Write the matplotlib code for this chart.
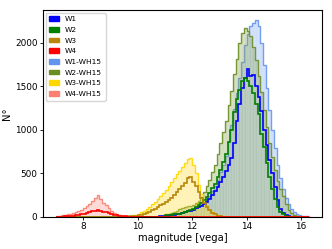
import numpy as np
import matplotlib
matplotlib.use('Agg')
import matplotlib.pyplot as plt
from matplotlib.patches import Patch

# histogram binning (magnitudes)
bin_width = 0.1
range_lo, range_hi = 7.0, 16.3

labels = ["W1", "W2", "W3", "W4", "W1-WH15", "W2-WH15", "W3-WH15", "W4-WH15"]
colors = ["blue", "green", "darkgoldenrod", "red",
          "cornflowerblue", "olivedrab", "gold", "salmon"]

# counts per 0.1 mag bin, starting at the given magnitude
w1_start = 10.8
w1_counts = [5, 7, 10, 13, 17, 21, 25, 32, 40, 50, 60, 70, 80, 95, 110, 125, 140, 170,
             200, 245, 290, 345, 400, 460, 520, 600, 680, 850, 1100, 1300, 1480, 1600,
             1700, 1620, 1630, 1500, 1380, 1220, 1000, 820, 650, 500, 340, 190, 85, 38,
             15, 5]
w2_start = 11.0
w2_counts = [15, 18, 22, 27, 32, 36, 40, 50, 60, 75, 90, 110, 130, 160, 190, 230, 270,
             325, 380, 460, 540, 630, 720, 860, 1000, 1200, 1350, 1460, 1560, 1600, 1560,
             1500, 1420, 1300, 1180, 950, 800, 620, 460, 320, 200, 110, 55, 25, 10]
w3_start = 9.7
w3_counts = [3, 5, 9, 15, 22, 30, 42, 55, 72, 90, 110, 130, 150, 170, 195, 220, 250,
             280, 315, 350, 390, 440, 460, 400, 350, 280, 220, 160, 110, 75, 45, 25, 12, 5]
w4_start = 7.3
w4_counts = [3, 5, 7, 10, 15, 20, 27, 35, 42, 50, 60, 70, 80, 65, 58, 50, 40, 30, 22,
             15, 9, 5, 2]
w1wh_start = 11.0
w1wh_counts = [20, 25, 30, 35, 40, 45, 50, 55, 62, 75, 90, 105, 120, 145, 170, 205, 240,
               295, 350, 425, 510, 600, 700, 870, 1050, 1240, 1420, 1600, 1780, 1980,
               2100, 2200, 2230, 2265, 2200, 2000, 1750, 1480, 1230, 1000, 790, 600, 440,
               320, 220, 140, 90, 55, 30, 15, 8, 4, 2]
w2wh_start = 11.0
w2wh_counts = [25, 35, 45, 55, 70, 85, 100, 110, 120, 125, 135, 155, 180, 230, 280, 350,
               420, 510, 600, 720, 850, 970, 1100, 1280, 1450, 1640, 1820, 2000, 2120,
               2175, 2140, 2080, 1950, 1800, 1620, 1430, 1230, 1030, 850, 690, 540, 410,
               320, 240, 150, 80, 40, 18, 8, 3]
w3wh_start = 9.5
w3wh_counts = [3, 6, 10, 15, 24, 35, 48, 65, 85, 110, 140, 170, 205, 240, 275, 310, 355,
               400, 445, 490, 530, 570, 620, 660, 680, 600, 500, 370, 260, 180, 120, 80,
               55, 35, 20, 12, 6, 3]
w4wh_start = 7.0
w4wh_counts = [10, 12, 15, 20, 25, 32, 40, 52, 65, 82, 100, 125, 150, 180, 210, 245, 200,
               160, 130, 100, 70, 45, 25, 15, 8, 4]

starts = [w1_start, w2_start, w3_start, w4_start,
          w1wh_start, w2wh_start, w3wh_start, w4wh_start]
counts = [w1_counts, w2_counts, w3_counts, w4_counts,
          w1wh_counts, w2wh_counts, w3wh_counts, w4wh_counts]

edges = np.round(np.arange(range_lo, range_hi + bin_width / 2, bin_width), 3)
nb = len(edges) - 1


def full(start, cnt):
    arr = np.zeros(nb)
    i0 = int(round((start - range_lo) / bin_width))
    arr[i0:i0 + len(cnt)] = cnt
    return arr


fig = plt.figure(figsize=(3.32, 2.49), dpi=100)
ax = fig.add_axes([0.1295, 0.13, 0.8405, 0.83])

# WH15 filled histograms
for k in range(4, 8):
    h = full(starts[k], counts[k])
    ax.bar(edges[:-1], h, width=bin_width, align='edge', color=colors[k],
           alpha=0.3, edgecolor='white', linewidth=0.3)
    ax.stairs(h, edges, color=colors[k], linewidth=1.0, alpha=0.9)

# W1..W4 step histograms
for k in range(0, 4):
    h = full(starts[k], counts[k])
    ax.stairs(h, edges, color=colors[k], linewidth=1.2)

ax.set_xlim(6.535, 16.765)
ax.set_ylim(0, 2380)
ax.set_xticks([8, 10, 12, 14, 16])
ax.set_yticks([0, 500, 1000, 1500, 2000])
ax.tick_params(labelsize=6.4, length=2.5, width=0.6, pad=1.5)
for s in ax.spines.values():
    s.set_linewidth(0.8)
ax.set_xlabel("magnitude [vega]", fontsize=7.2, labelpad=1)
ax.set_ylabel("N°", fontsize=7.2)
ax.yaxis.set_label_coords(-0.11, 0.5)

handles = [Patch(color=c, label=l) for c, l in zip(colors, labels)]
ax.legend(handles=handles, loc='upper left', fontsize=5.4, handlelength=1.3,
          handleheight=0.6, labelspacing=0.62, borderpad=0.5, framealpha=0.8,
          borderaxespad=0.35)

fig.savefig("out.png", dpi=100)
